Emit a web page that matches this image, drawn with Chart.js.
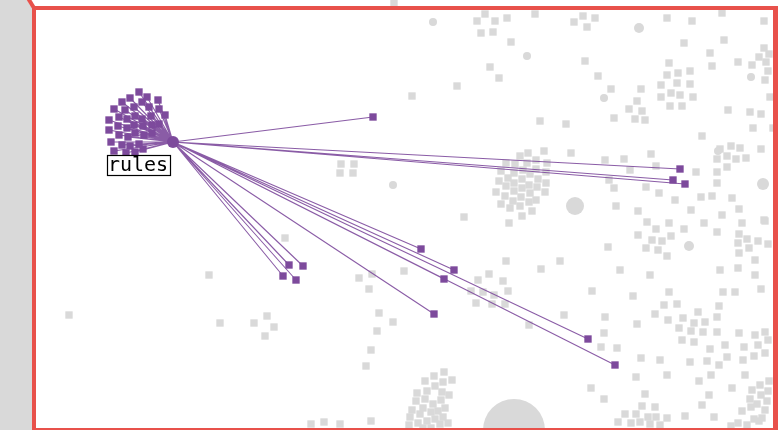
<!DOCTYPE html>
<html>
<head>
<meta charset="utf-8">
<script src="https://cdn.jsdelivr.net/npm/chart.js@4.4.1/dist/chart.umd.min.js"></script>
<style>
  html, body { margin: 0; padding: 0; background: #ffffff; }
  #wrap { width: 778px; height: 430px; position: relative; }
  canvas { display: block; }
</style>
</head>
<body>
<div id="wrap"><canvas id="c" width="778" height="430"></canvas></div>
<script>
// ---- data (layout coordinates of the network) ----
const hubLabel = 'rules';
const hubX = [173];
const hubY = [142];

// purple leaf nodes connected to the hub
const leafX = [139,130,147,122,142,158,114,125,134,149,159,119,109,127,135,142,151,165,118,109,127,134,143,152,159,111,119,128,135,144,152,122,130,139,114,126,135,143,
               373,680,673,685,421,454,444,434,588,615,289,303,283,296];
const leafY = [92,98,97,102,102,100,109,110,107,107,109,117,120,119,116,119,116,115,126,130,128,125,126,125,124,142,135,137,133,135,133,145,146,144,151,153,152,149,
               117,169,180,184,249,270,279,314,339,365,265,266,276,280];

// grey background nodes (squares)
const greyX = [394,485,477,495,507,481,493,511,535,574,583,587,595,490,499,457,412,341,354,340,353,
  667,692,722,764,684,724,710,712,764,759,769,766,752,738,768,765,770,669,667,678,690,661,677,690,661,671,680,693,670,682,585,598,611,641,637,629,642,614,635,645,540,566,728,750,761,753,702,773,
  528,544,571,605,624,651,656,630,609,614,646,659,696,717,720,731,740,727,736,746,717,727,717,761,701,712,732,675,691,722,739,616,638,764,
  520,506,515,527,536,547,501,514,523,530,536,546,499,508,514,522,529,538,546,496,506,505,514,522,530,537,545,501,510,513,521,520,529,536,532,522,509,464,
  765,647,669,656,684,704,742,638,652,662,671,646,658,667,717,739,738,747,749,758,768,739,608,755,560,541,620,650,720,738,755,592,633,669,723,735,761,664,677,719,564,605,637,655,668,683,698,694,705,717,679,691,703,717,739,755,765,682,694,725,744,758,768,710,604,601,617,641,660,690,707,719,727,743,754,765,636,667,699,711,745,591,604,645,709,732,702,642,655,625,636,648,656,667,685,714,618,631,640,650,660,731,738,747,759,742,751,750,761,768,752,760,769,767,757,765,762,754,
  489,478,503,471,483,494,508,476,492,505,506,529,
  285,254,267,274,265,359,372,369,404,379,393,377,371,366,209,69,220,
  444,434,425,443,452,435,427,442,417,449,425,433,441,416,423,412,431,438,445,420,410,427,435,443,418,448,409,423,431,440,311,324,340,371];
const greyY = [3,14,21,21,18,33,32,42,14,22,16,27,18,67,78,86,96,164,164,173,173,
  18,21,13,21,43,40,53,66,48,57,54,62,65,62,71,80,97,63,75,73,71,85,83,84,97,93,95,97,106,106,61,76,89,89,101,109,111,118,119,120,121,124,110,112,114,128,136,128,
  153,151,153,160,159,154,166,170,180,188,187,193,172,172,149,146,148,156,159,158,159,167,183,149,197,196,198,200,210,215,209,206,211,220,
  156,163,164,163,160,163,171,173,170,174,169,172,181,178,183,179,185,179,183,192,186,196,191,188,193,187,192,204,208,201,197,206,202,200,211,216,223,217,
  221,222,223,229,229,223,223,235,240,241,236,248,250,256,232,234,243,239,248,241,244,253,247,260,261,269,270,275,270,268,275,291,296,292,292,292,289,305,304,306,315,317,324,314,320,318,312,323,322,317,328,331,332,332,333,335,332,340,342,345,347,345,340,349,333,347,348,358,360,362,361,365,357,360,356,353,377,375,381,375,375,388,399,394,395,388,405,406,407,414,414,417,417,418,416,417,422,423,422,424,425,426,423,425,421,411,407,399,395,391,390,385,381,401,404,410,418,419,
  274,280,281,291,292,295,291,303,304,304,261,325,
  238,323,316,327,336,278,274,289,271,313,322,331,350,366,275,315,323,
  372,376,381,382,380,386,391,392,393,395,399,404,400,401,408,410,412,411,408,414,417,421,419,417,423,423,425,428,428,424,424,422,424,421];

// grey background nodes (circles) with their radii
const circleX = [433,527,639,604,393,751,763,575,689,718,514];
const circleY = [22,56,28,98,185,77,184,206,246,151,430];
const circleR = [4,4,5,4,4,4,6,9,5,4,31];

// ---- build chart data ----
const PURPLE = '#7d4a9c';
const GREY = '#d9d9d9';
const RED = '#e8514b';

const pts = (xs, ys) => xs.map((x, i) => ({ x: x, y: ys[i] }));
const edges = [];
leafX.forEach((x, i) => {
  edges.push({ x: hubX[0], y: hubY[0] });
  edges.push({ x: x, y: leafY[i] });
  edges.push({ x: x, y: null });
});

const framePlugin = {
  id: 'frame',
  beforeDraw(chart) {
    const ctx = chart.ctx;
    ctx.save();
    ctx.fillStyle = '#ffffff';
    ctx.fillRect(0, 0, chart.width, chart.height);
    ctx.restore();
  },
  afterDatasetsDraw(chart) {
    const ctx = chart.ctx;
    const xs = chart.scales.x, ys = chart.scales.y;
    const hx = xs.getPixelForValue(hubX[0]);
    const hy = ys.getPixelForValue(hubY[0]);
    ctx.save();
    ctx.font = '20px "DejaVu Sans Mono", monospace';
    const cx = hx - 35, cy = hy + 24;
    const bw = 63, bh = 20;
    const bx = Math.round(cx - bw / 2) + 0.5, by = Math.round(cy - bh / 2) - 0.5;
    ctx.fillStyle = '#ffffff';
    ctx.fillRect(bx, by, bw, bh);
    ctx.strokeStyle = '#000000';
    ctx.lineWidth = 1.2;
    ctx.strokeRect(bx, by, bw, bh);
    ctx.fillStyle = '#000000';
    ctx.textAlign = 'center';
    ctx.textBaseline = 'middle';
    ctx.fillText(hubLabel, cx, cy);
    ctx.restore();
  },
  afterDraw(chart) {
    const ctx = chart.ctx;
    ctx.save();
    // grey side band
    ctx.fillStyle = GREY;
    ctx.beginPath();
    ctx.moveTo(0, 0); ctx.lineTo(27, 0); ctx.lineTo(32, 7); ctx.lineTo(32, 430); ctx.lineTo(0, 430);
    ctx.closePath();
    ctx.fill();
    // red frame
    ctx.fillStyle = RED;
    ctx.fillRect(32, 6, 4, 424);
    ctx.fillRect(32, 6, 746, 4);
    ctx.fillRect(773, 6, 5, 424);
    ctx.fillRect(32, 428, 746, 2);
    ctx.strokeStyle = RED;
    ctx.lineWidth = 4;
    ctx.beginPath();
    ctx.moveTo(28.5, -1); ctx.lineTo(34, 8);
    ctx.stroke();
    ctx.restore();
  }
};

new Chart(document.getElementById('c'), {
  type: 'scatter',
  data: {
    datasets: [
      { label: 'hub', data: pts(hubX, hubY), pointStyle: 'circle', pointRadius: 6,
        backgroundColor: PURPLE, borderWidth: 0, order: 0 },
      { label: 'leaves', data: pts(leafX, leafY), pointStyle: 'rect', pointRadius: 5.2,
        backgroundColor: PURPLE, borderWidth: 0, order: 1 },
      { label: 'edges', type: 'line', data: edges, showLine: true, spanGaps: false,
        borderColor: 'rgba(125,74,156,0.9)', borderWidth: 1.1, pointRadius: 0, fill: false, order: 2 },
      { label: 'circles', data: pts(circleX, circleY), pointStyle: 'circle', pointRadius: circleR,
        backgroundColor: GREY, borderWidth: 0, order: 3 },
      { label: 'nodes', data: pts(greyX, greyY), pointStyle: 'rect', pointRadius: 5.2,
        backgroundColor: GREY, borderWidth: 0, order: 4 }
    ]
  },
  options: {
    responsive: false,
    devicePixelRatio: 1,
    animation: false,
    events: [],
    layout: { padding: 0, autoPadding: false },
    plugins: { legend: { display: false }, tooltip: { enabled: false }, title: { display: false } },
    scales: {
      x: { type: 'linear', min: 0, max: 778, display: false },
      y: { type: 'linear', min: 0, max: 430, reverse: true, display: false }
    }
  },
  plugins: [framePlugin]
});
</script>
</body>
</html>
